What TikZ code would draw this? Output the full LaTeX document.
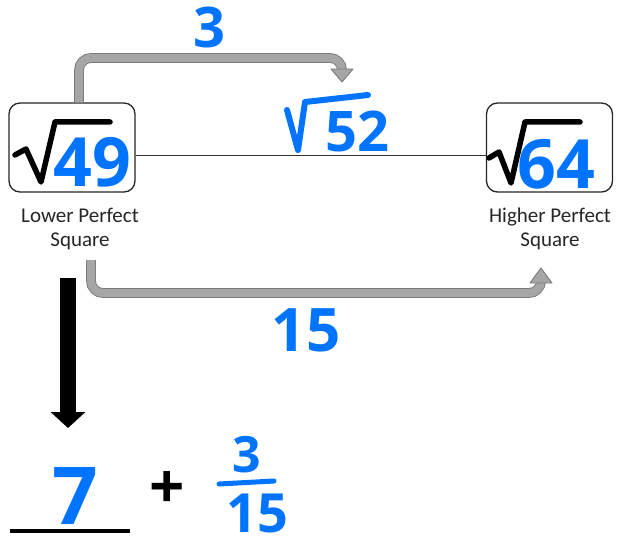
\documentclass[tikz,border=0pt]{standalone}
\usepackage{fontspec}
\setmainfont{Carlito}
\newfontfamily\handfont{Open Sans}
\usepackage{tikz}
\usetikzlibrary{positioning,arrows.meta,calc}
\usepackage{xcolor}
\definecolor{inkblue}{RGB}{0,115,255}
\definecolor{arrowfill}{RGB}{166,166,166}
\definecolor{arrowedge}{RGB}{122,122,122}

\tikzset{
  sqbox/.style={draw=black!85,line width=1.3pt,rounded corners=11pt,fill=white,
    minimum width=126pt,minimum height=89pt,inner sep=0pt},
  radical/.style={line width=5.5pt,line cap=round,line join=round},
  ink/.style={text=inkblue,inner sep=0pt,font=\handfont\bfseries\fontsize{#1}{#1}\selectfont},
  sqlabel/.style={align=center,inner sep=0pt,text=black!85,font=\fontsize{21}{24}\selectfont},
  bentarrow/.style={draw=arrowedge,line width=0.9pt,double=arrowfill,double distance=8pt,rounded corners=12pt},
  benttip/.style={fill=arrowfill,draw=arrowedge,line width=0.9pt,line join=round},
}

\begin{document}
\begin{tikzpicture}[x=1pt,y=-1pt]
\useasboundingbox (0,0) rectangle (618,545);
% the two perfect squares
\node[sqbox] (low) at (72,147.5) {};
\node[sqbox] (high) at (549.5,147.5) {};
\draw[line width=1.3pt,black!80] ($(low.east)+(0,8)$) -- ($(high.west)+(0,8)$);
\draw[radical] (15,155) -- (26,149) -- (41,182) -- (55,122) -- (110,122);
\draw[radical] (489,158) -- (499,152) -- (511,183) -- (525,122) -- (580,122);
\node[ink=68] (lowval) at (92,162) {49};
\node[ink=68] (highval) at (556,164) {64};
\node[sqlabel] (lowlbl) at (80,229) {Lower Perfect\\Square};
\node[sqlabel] (highlbl) at (550,229) {Higher Perfect\\Square};
% root in between
\draw[radical,inkblue,line width=6pt] (287,110) -- (298,150) -- (305,102) -- (368,95);
\node[ink=56] (mid) at (357,131) {52};
% gray arrows
\coordinate (topstart) at ($(low.north)+(7,0)$);
\coordinate (topend) at (342,82);
\draw[bentarrow] (topstart) |- (342,58) -- ($(topend)+(0,-12)$);
\filldraw[benttip] ($(topend)+(-11,-13)$) -- ($(topend)+(11,-13)$) -- (topend) -- cycle;
\node[ink=56] (gapA) at (209,28) {3};
\coordinate (botstart) at ($(lowlbl.south)+(11,10)$);
\coordinate (botend) at (541,268);
\draw[bentarrow] (botstart) |- (541,293) -- ($(botend)+(0,14)$);
\filldraw[benttip] ($(botend)+(-11,15)$) -- ($(botend)+(11,15)$) -- (botend) -- cycle;
\node[ink=60] (gapB) at (306,330) {15};
% answer
\coordinate (downstart) at (68,278);
\coordinate (downend) at (68,428);
\draw[line width=16pt,-{Triangle[width=34pt,length=16pt]}] (downstart) -- (downend);
\node[ink=80] (whole) at (75,496) {7};
\draw[line width=3.5pt] (10,531) -- (130,531);
\node[inner sep=0pt,font=\handfont\bfseries\fontsize{62}{62}\selectfont] (plus) at (167,490) {+};
\node[ink=50] (num) at (247,455) {3};
\draw[inkblue,line width=5pt,line cap=round] (219,484) -- (274,481);
\node[ink=54] (den) at (257,513) {15};
\end{tikzpicture}
\end{document}
